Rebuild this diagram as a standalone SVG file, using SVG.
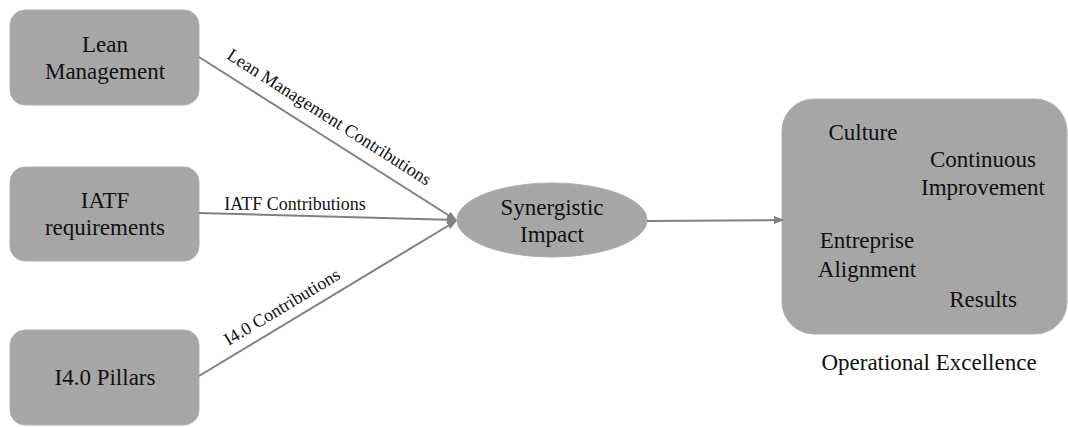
<svg xmlns="http://www.w3.org/2000/svg" width="1068" height="427" viewBox="0 0 1068 427">
<style>
.node{fill:#a6a6a6;stroke:#b0b0b0;stroke-width:1}
.t{font-size:23px;fill:#111;text-anchor:middle}
.lbl{font-size:18px;fill:#111;text-anchor:middle}
.edge{stroke:#808080;stroke-width:2;fill:none;marker-end:url(#arr)}
</style>
<defs>
<marker id="arr" markerWidth="10" markerHeight="8" refX="9" refY="4" orient="auto" markerUnits="userSpaceOnUse">
<path d="M0,0 L10,4 L0,8 Z" fill="#808080"/>
</marker>
</defs>
<rect width="1068" height="427" fill="#fff"/>
<g font-family="'Liberation Serif', 'Times New Roman', serif">
<g id="lean">
<rect class="node" x="10" y="10" width="189" height="95" rx="15"/>
<text class="t" x="105" y="52">Lean</text>
<text class="t" x="105" y="79">Management</text>
</g>
<g id="iatf">
<rect class="node" x="10" y="167" width="189" height="94" rx="15"/>
<text class="t" x="105" y="208">IATF</text>
<text class="t" x="105" y="235">requirements</text>
</g>
<g id="i40">
<rect class="node" x="10" y="330" width="189" height="95" rx="15"/>
<text class="t" x="105" y="385">I4.0 Pillars</text>
</g>
<g id="synergy">
<ellipse class="node" cx="552" cy="220" rx="95" ry="37"/>
<text class="t" x="552" y="215">Synergistic</text>
<text class="t" x="552" y="242">Impact</text>
</g>
<g id="opex">
<rect class="node" x="782" y="99" width="285" height="235" rx="32"/>
<text class="t" x="863" y="140">Culture</text>
<text class="t" x="983" y="167">Continuous</text>
<text class="t" x="983" y="195">Improvement</text>
<text class="t" x="867" y="248">Entreprise</text>
<text class="t" x="867" y="277">Alignment</text>
<text class="t" x="983" y="307">Results</text>
<text class="t" x="929" y="370" font-size="24">Operational Excellence</text>
</g>
<g id="connectors">
<line class="edge" x1="199" y1="57" x2="456" y2="220"/>
<line class="edge" x1="199" y1="213" x2="456" y2="220"/>
<line class="edge" x1="199" y1="376" x2="456" y2="221"/>
<line class="edge" x1="647" y1="221" x2="783" y2="220"/>
<text class="lbl" transform="translate(326,122) rotate(32.5)">Lean Management Contributions</text>
<text class="lbl" x="295" y="210">IATF Contributions</text>
<text class="lbl" transform="translate(285,312) rotate(-31)">I4.0 Contributions</text>
</g>
</g>
</svg>
